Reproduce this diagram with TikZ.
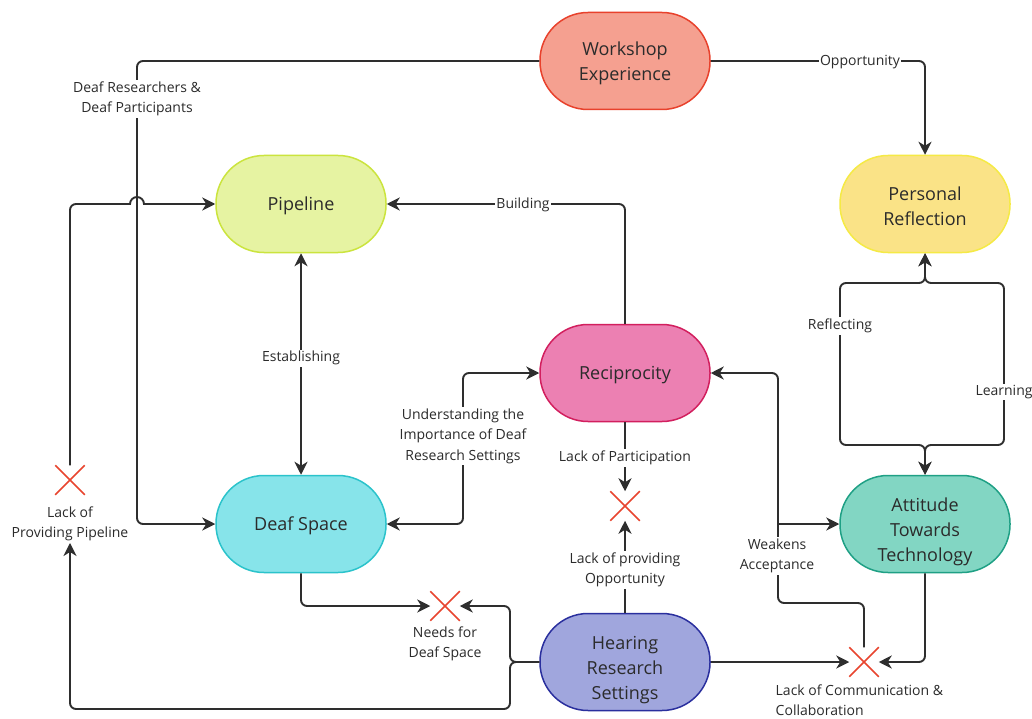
\documentclass[tikz,border=0pt]{standalone}
\usepackage{fontspec}
\setmainfont{Open Sans}
\usetikzlibrary{arrows.meta,shapes.misc}
\definecolor{ln}{HTML}{2E2E2E}
\definecolor{txt}{HTML}{2B2B2B}
\definecolor{xred}{HTML}{E8452F}
\definecolor{wsF}{HTML}{F5A090}\definecolor{wsD}{HTML}{E8412C}
\definecolor{refF}{HTML}{FAE387}\definecolor{refD}{HTML}{F5EA45}
\definecolor{pipF}{HTML}{E6F3A2}\definecolor{pipD}{HTML}{CBE43E}
\definecolor{recF}{HTML}{EC80B2}\definecolor{recD}{HTML}{D21F5E}
\definecolor{dsF}{HTML}{87E4EA}\definecolor{dsD}{HTML}{2BC3CB}
\definecolor{attF}{HTML}{82D6C3}\definecolor{attD}{HTML}{1FA085}
\definecolor{hrsF}{HTML}{A0A6DD}\definecolor{hrsD}{HTML}{2A2F9E}
\newcommand{\tstrut}[1]{\rule{0pt}{#1}}
\begin{document}
\begin{tikzpicture}[x=1pt,y=-1pt,
  stadium/.style={draw, line width=1.5pt, rounded corners=48pt, minimum width=170pt, minimum height=97pt, align=center, text=txt, font=\fontsize{18}{25}\selectfont},
  conn/.style={draw=ln, line width=1.9pt, rounded corners=6pt, -{Stealth[length=13pt,width=13pt,inset=4pt]}},
  conn2/.style={conn, {Stealth[length=13pt,width=13pt,inset=4pt]}-{Stealth[length=13pt,width=13pt,inset=4pt]}},
  lab/.style={fill=white, inner sep=1.5pt, align=center, text=txt, font=\fontsize{14}{20.5}\selectfont},
  xm/.style={cross out, draw=xred, line width=1.5pt, minimum size=28pt, inner sep=0pt}]
\useasboundingbox[fill=white] (0,0) rectangle (1032,719);

% nodes
\node[stadium, fill=wsF, draw=wsD] (ws) at (625,61) {\tstrut{18pt}Workshop\\Experience};
\node[stadium, fill=refF, draw=refD] (ref) at (925,204) {\tstrut{18pt}Personal\\Reflection};
\node[stadium, fill=pipF, draw=pipD] (pip) at (301,204) {\tstrut{18pt}Pipeline};
\node[stadium, fill=recF, draw=recD] (rec) at (625,373) {\tstrut{18pt}Reciprocity};
\node[stadium, fill=dsF, draw=dsD] (ds) at (301,524) {\tstrut{18pt}Deaf Space};
\node[stadium, fill=attF, draw=attD] (att) at (925,524) {\tstrut{29pt}Attitude\\Towards\\Technology};
\node[stadium, fill=hrsF, draw=hrsD] (hrs) at (625,662) {\tstrut{29pt}Hearing\\Research\\Settings};

% cross marks
\node[xm] (x1) at (70,480) {};
\node[xm] (x2) at (445,606) {};
\node[xm] (x3) at (625,506) {};
\node[xm] (x4) at (864,662) {};

% connectors
\draw[conn] (ws.west) -- (137,61) -- (137,524) -- (ds.west);
\draw[conn, sharp corners] (x1.north) -- (70,210) arc (180:270:6) -- (130,204) arc (180:360:7) -- (pip.west);
\draw[conn2] (pip.south) -- (ds.north);
\draw[conn2] (ds.east) -| (463,373) -- (rec.west);
\draw[conn] (rec.north) |- (pip.east);
\draw[conn] (ws.east) -| (ref.north);
\draw[conn2] (att.north) -- (925,445) -| (840,283) -| (ref.south);
\draw[conn2] (att.north) -- (925,445) -| (1004,283) -| (ref.south);
\draw[conn] (x4.north) |- (778,603) |- (rec.east);
\draw[conn] (778,524) -- (att.west);
\draw[conn] (hrs.east) -- (x4.west);
\draw[conn] (att.south) |- (x4.east);
\draw[conn] (rec.south) -- (x3.north);
\draw[conn] (hrs.north) -- (x3.south);
\draw[conn] (ds.south) |- (x2.west);
\draw[conn] (hrs.west) -- (510,662) |- (x2.east);

% labels
\node[lab] (lpp) at (70,524) {Lack of\\Providing Pipeline};
\draw[conn] (hrs.west) -- (510,662) |- (70,709) -- (lpp.south);
\node[lab] (ldr) at (137,99) {Deaf Researchers \&\\Deaf Participants};
\node[lab] (lest) at (301,358) {Establishing};
\node[lab] (lund) at (463,436) {Understanding the\\Importance of Deaf\\Research Settings};
\node[lab] (lbld) at (523,205) {Building};
\node[lab] (lopp) at (860,62) {Opportunity};
\node[lab] (lrefl) at (840,326) {Reflecting};
\node[lab] (llrn) at (1004,392) {Learning};
\node[lab] (lpart) at (625,458) {Lack of Participation};
\node[lab] (lprov) at (625,570) {Lack of providing\\Opportunity};
\node[lab] (lweak) at (777,556) {Weakens\\Acceptance};
\node[lab] (lneed) at (445,644) {Needs for\\Deaf Space};
\node[lab, fill=none, align=left, anchor=north west] (lcom) at (774,683) {Lack of Communication \&\\Collaboration};
\end{tikzpicture}
\end{document}
